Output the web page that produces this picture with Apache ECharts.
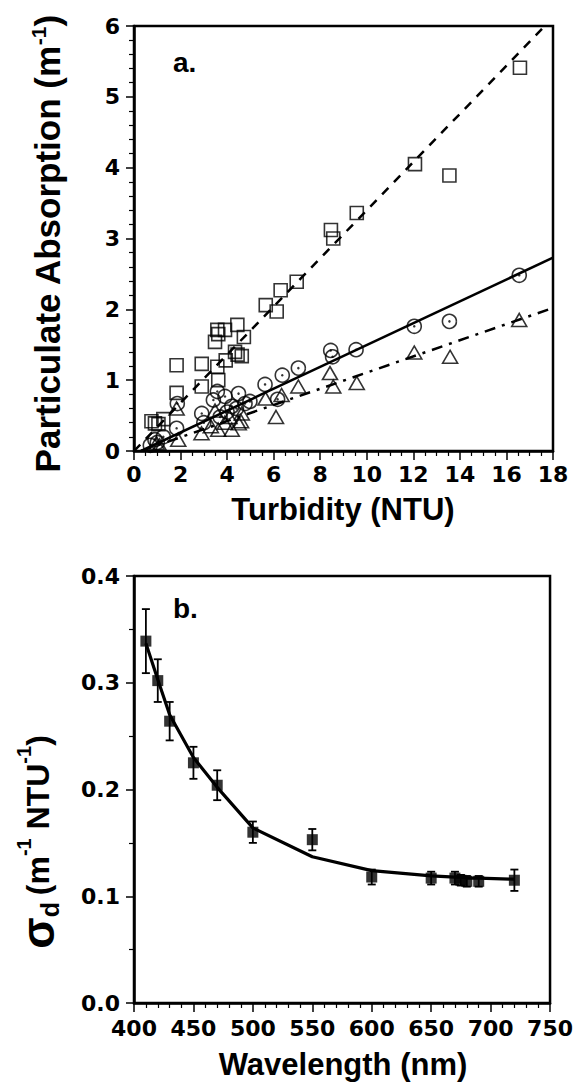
<!DOCTYPE html>
<html>
<head>
<meta charset="utf-8">
<script src="https://cdn.jsdelivr.net/npm/echarts@6/dist/echarts.min.js"></script>
<style>
html,body{margin:0;padding:0;background:#fff;}
#chart{width:576px;height:1088px;}
</style>
</head>
<body>
<div id="chart"></div>
<script>
// ---------- Panel a data: turbidity (NTU) vs particulate absorption (m^-1) ----------
const squareTurb = [0.75,0.9,1.05,1.26,1.83,1.83,2.91,2.91,3.48,3.58,3.62,3.91,3.58,3.62,4.44,4.72,3.94,4.34,4.63,4.45,5.66,6.13,6.3,6.99,8.46,8.56,9.57,12.07,13.55,16.58];
const squareAbs  = [0.42,0.39,0.38,0.45,1.21,0.82,1.23,0.91,1.54,1.71,1.65,1.71,1.19,1.0,1.78,1.61,1.28,1.40,1.34,1.36,2.06,1.97,2.27,2.39,3.12,3.0,3.36,4.05,3.89,5.41];
const circleTurb = [0.7,0.9,1.0,1.26,1.83,1.86,2.91,3.0,3.41,3.58,3.7,3.91,4.0,4.2,4.4,4.49,4.77,4.98,5.63,6.17,6.37,7.06,8.45,8.53,9.54,12.04,13.55,16.55];
const circleAbs  = [0.08,0.16,0.12,0.2,0.32,0.67,0.53,0.4,0.72,0.84,0.48,0.77,0.55,0.63,0.6,0.81,0.67,0.70,0.94,0.73,1.07,1.17,1.42,1.33,1.43,1.76,1.83,2.48];
const triTurb = [0.97,1.1,1.9,1.83,2.9,3.3,3.48,3.62,3.9,4.1,4.2,4.5,4.6,4.63,5.65,6.1,6.34,7.06,8.42,8.56,9.57,12.04,13.58,16.55];
const triAbs  = [0.11,0.08,0.16,0.6,0.25,0.35,0.57,0.3,0.4,0.48,0.3,0.39,0.42,0.53,0.74,0.48,0.79,0.91,1.10,0.91,0.96,1.39,1.33,1.85];
// regression lines
const squareFitTurb = [0, 17.65];
const squareFitAbs  = [0, 6.0];
const circleFitTurb = [0.3, 18];
const circleFitAbs  = [0, 2.73];
const triFitTurb = [0.3, 18];
const triFitAbs  = [0, 2.02];

// ---------- Panel b data: wavelength (nm) vs sigma_d ----------
const wavelengths = [410,420,430,450,470,500,550,600,650,670,675,680,690,720];
const sigmaD      = [0.339,0.302,0.264,0.225,0.204,0.160,0.153,0.118,0.117,0.117,0.115,0.114,0.114,0.115];
const sigmaErr    = [0.030,0.020,0.018,0.015,0.014,0.010,0.010,0.007,0.006,0.006,0.005,0.005,0.005,0.010];
const sigmaFit    = [0.337,0.303,0.270,0.230,0.202,0.164,0.137,0.124,0.119,0.118,0.118,0.117,0.117,0.116];

// tick labels
const xTicksA = [0,2,4,6,8,10,12,14,16,18];
const yTicksA = [0,1,2,3,4,5,6];
const xTicksB = [400,450,500,550,600,650,700,750];
const yTicksB = ['0.0','0.1','0.2','0.3','0.4'];

const zip = (a, b) => a.map((v, i) => [v, b[i]]);
const FONT = 'Liberation Sans';
const TICKFONT = 'DejaVu Sans';
const BLK = '#000';

function axisCommon(extra) {
  return Object.assign({
    type: 'value',
    axisLine: { show: true, onZero: false, lineStyle: { color: BLK, width: 2.5 } },
    axisTick: { show: true, inside: false, length: 9, lineStyle: { color: BLK, width: 1.5 } },
    minorTick: { show: true, length: 5, lineStyle: { color: BLK, width: 1.2 } },
    splitLine: { show: false },
    minorSplitLine: { show: false },
    axisLabel: { color: BLK, fontFamily: TICKFONT, fontWeight: 'bold', fontSize: 22, margin: 12 }
  }, extra);
}

const chart = echarts.init(document.getElementById('chart'), null, { renderer: 'svg' });

const openStyle = { color: 'rgba(0,0,0,0)', borderColor: BLK, borderWidth: 1.6 };

const option = {
  animation: false,
  backgroundColor: '#fff',
  grid: [
    { left: 134, top: 26, width: 419, height: 425, show: true, borderColor: BLK, borderWidth: 2.5, backgroundColor: 'transparent' },
    { left: 134, top: 576, width: 418, height: 427, show: true, borderColor: BLK, borderWidth: 2.5, backgroundColor: 'transparent' }
  ],
  xAxis: [
    axisCommon({ gridIndex: 0, min: xTicksA[0], max: xTicksA[xTicksA.length - 1], interval: 2, minorTick: { show: true, splitNumber: 4, length: 5, lineStyle: { color: BLK, width: 1.2 } } }),
    axisCommon({ gridIndex: 1, min: xTicksB[0], max: xTicksB[xTicksB.length - 1], interval: 50, minorTick: { show: true, splitNumber: 5, length: 5, lineStyle: { color: BLK, width: 1.2 } },
      axisLabel: { color: BLK, fontFamily: TICKFONT, fontWeight: 'bold', fontSize: 22, margin: 14 } })
  ],
  yAxis: [
    axisCommon({ gridIndex: 0, min: yTicksA[0], max: yTicksA[yTicksA.length - 1], interval: 1, axisTick: { show: true, length: 8, lineStyle: { color: BLK, width: 1.5 } }, minorTick: { show: true, splitNumber: 5, length: 5, lineStyle: { color: BLK, width: 1.2 } },
      axisLabel: { color: BLK, fontFamily: TICKFONT, fontWeight: 'bold', fontSize: 22, margin: 14 } }),
    axisCommon({ gridIndex: 1, min: 0, max: 0.4, interval: 0.1, axisTick: { show: true, length: 8, lineStyle: { color: BLK, width: 1.5 } }, minorTick: { show: true, splitNumber: 2, length: 5, lineStyle: { color: BLK, width: 1.2 } },
      axisLabel: { color: BLK, fontFamily: TICKFONT, fontWeight: 'bold', fontSize: 22, margin: 14, formatter: v => yTicksB[Math.round(v * 10)] } })
  ],
  series: [
    // regression lines panel a
    { type: 'line', xAxisIndex: 0, yAxisIndex: 0, data: zip(squareFitTurb, squareFitAbs), showSymbol: false, z: 1,
      lineStyle: { color: BLK, width: 2.5, type: [9, 8] } },
    { type: 'line', xAxisIndex: 0, yAxisIndex: 0, data: zip(circleFitTurb, circleFitAbs), showSymbol: false, z: 1,
      lineStyle: { color: BLK, width: 2.5 } },
    { type: 'line', xAxisIndex: 0, yAxisIndex: 0, data: zip(triFitTurb, triFitAbs), showSymbol: false, z: 1,
      lineStyle: { color: BLK, width: 2.5, type: [11, 7, 3, 7] } },
    // points panel a
    { type: 'scatter', xAxisIndex: 0, yAxisIndex: 0, data: zip(squareTurb, squareAbs), symbol: 'rect', symbolSize: 13, itemStyle: openStyle, z: 3 },
    { type: 'scatter', xAxisIndex: 0, yAxisIndex: 0, data: zip(circleTurb, circleAbs), symbol: 'circle', symbolSize: 14, itemStyle: openStyle, z: 3 },
    { type: 'scatter', xAxisIndex: 0, yAxisIndex: 0, data: zip(circleTurb, circleAbs), symbol: 'circle', symbolSize: 2.5, itemStyle: { color: BLK }, z: 4 },
    { type: 'scatter', xAxisIndex: 0, yAxisIndex: 0, data: zip(triTurb, triAbs), symbol: 'triangle', symbolSize: [15, 13], itemStyle: openStyle, z: 3 },
    // panel b fit curve
    { type: 'line', xAxisIndex: 1, yAxisIndex: 1, data: zip(wavelengths, sigmaFit), showSymbol: false, z: 2,
      lineStyle: { color: BLK, width: 3.2 } },
    // error bars
    { type: 'custom', xAxisIndex: 1, yAxisIndex: 1, z: 3,
      data: wavelengths.map((w, i) => [w, sigmaD[i] - sigmaErr[i], sigmaD[i] + sigmaErr[i]]),
      renderItem: function (params, api) {
        const lo = api.coord([api.value(0), api.value(1)]);
        const hi = api.coord([api.value(0), api.value(2)]);
        const hw = 4;
        const st = { stroke: BLK, lineWidth: 1.8 };
        return { type: 'group', children: [
          { type: 'line', shape: { x1: lo[0], y1: lo[1], x2: hi[0], y2: hi[1] }, style: st },
          { type: 'line', shape: { x1: lo[0] - hw, y1: lo[1], x2: lo[0] + hw, y2: lo[1] }, style: st },
          { type: 'line', shape: { x1: hi[0] - hw, y1: hi[1], x2: hi[0] + hw, y2: hi[1] }, style: st }
        ] };
      } },
    { type: 'scatter', xAxisIndex: 1, yAxisIndex: 1, data: zip(wavelengths, sigmaD), symbol: 'rect', symbolSize: 11, itemStyle: { color: BLK }, z: 4 }
  ],
  graphic: [
    { type: 'text', x: 173, y: 62, style: { text: 'a.', font: 'bold 28px "Liberation Sans"', fill: BLK, align: 'left', verticalAlign: 'middle' } },
    { type: 'text', x: 173, y: 608, style: { text: 'b.', font: 'bold 28px "Liberation Sans"', fill: BLK, align: 'left', verticalAlign: 'middle' } },
    { type: 'text', x: 343, y: 509, style: { text: 'Turbidity (NTU)', font: 'bold 31px "Liberation Sans"', fill: BLK, align: 'center', verticalAlign: 'middle' } },
    { type: 'text', x: 343, y: 1064, style: { text: 'Wavelength (nm)', font: 'bold 31px "Liberation Sans"', fill: BLK, align: 'center', verticalAlign: 'middle' } },
    { type: 'text', x: 47, y: 244, rotation: Math.PI / 2,
      style: { text: '{n|Particulate Absorption (m}{s|-1}{n|)}', align: 'center', verticalAlign: 'middle', fill: BLK,
        rich: { n: { fontFamily: FONT, fontWeight: 'bold', fontSize: 35, fill: BLK, lineHeight: 38 },
                s: { fontFamily: FONT, fontWeight: 'bold', fontSize: 21, fill: BLK, verticalAlign: 'top', lineHeight: 38 } } } },
    { type: 'text', x: 38, y: 842, rotation: Math.PI / 2,
      style: { text: '{g|σ}{d|d }{n|(m}{s|-1}{n| NTU}{s|-1}{n|)}', align: 'center', verticalAlign: 'middle', fill: BLK,
        rich: { g: { fontFamily: FONT, fontWeight: 'bold', fontSize: 46, fill: BLK, lineHeight: 48 },
                d: { fontFamily: FONT, fontWeight: 'bold', fontSize: 25, fill: BLK, verticalAlign: 'bottom', lineHeight: 48 },
                n: { fontFamily: FONT, fontWeight: 'bold', fontSize: 32, fill: BLK, lineHeight: 48 },
                s: { fontFamily: FONT, fontWeight: 'bold', fontSize: 20, fill: BLK, verticalAlign: 'top', lineHeight: 48 } } } }
  ]
};
chart.setOption(option);
</script>
</body>
</html>
